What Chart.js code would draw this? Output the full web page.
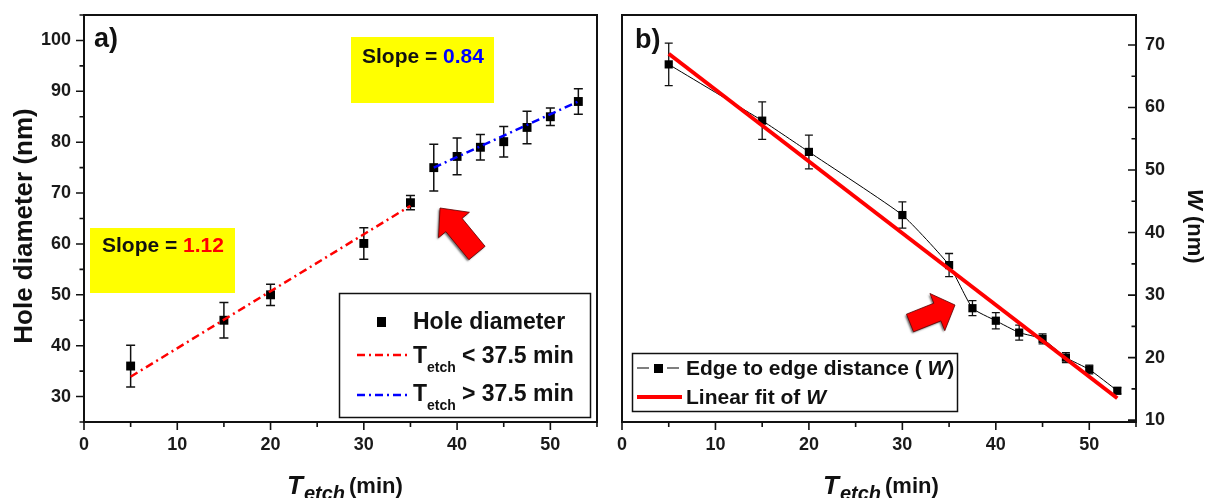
<!DOCTYPE html>
<html><head><meta charset="utf-8">
<script src="https://cdn.jsdelivr.net/npm/chart.js@4.4.1/dist/chart.umd.min.js"></script>
<style>
html,body{margin:0;padding:0;background:#fff;width:1207px;height:498px;overflow:hidden}
#ca{position:absolute;left:0;top:0}
#cb{position:absolute;left:605px;top:0}
</style></head><body>
<canvas id="ca" width="605" height="498"></canvas>
<canvas id="cb" width="602" height="498"></canvas>
<script>
// ---------- data ----------
const etchTimes = [5, 15, 20, 30, 35, 37.5, 40, 42.5, 45, 47.5, 50, 53];
const holeDiameter = [36, 45, 50, 60.1, 68.1, 75, 77.2, 79, 80.1, 82.9, 85, 88];
const holeErr = [4.1, 3.5, 2.1, 3.1, 1.4, 4.6, 3.6, 2.5, 3, 3.2, 1.7, 2.5];
const fitLowX = [5, 35];
const fitLowY = [33.9, 67.5];
const fitHighX = [37.5, 53];
const fitHighY = [75, 88];
const edgeDistance = [66.9, 57.9, 52.9, 42.8, 34.8, 27.9, 25.9, 24.0, 23.0, 20.0, 18.1, 14.7];
const edgeErr = [3.4, 3, 2.7, 2.1, 1.85, 1.2, 1.3, 1.2, 0.8, 0.8, 0.7, 0.5];
const fitWX = [5, 53];
const fitWY = [68.6, 13.5];
const xTickLabels = [0, 10, 20, 30, 40, 50];
const yTickLabelsA = [30, 40, 50, 60, 70, 80, 90, 100];
const yTickLabelsB = [10, 20, 30, 40, 50, 60, 70];
const slopeLow = '1.12';
const slopeHigh = '0.84';

const F = '"Liberation Sans", Arial, Helvetica, sans-serif';
const pts = (xs, ys) => xs.map((x, i) => ({x: x, y: ys[i]}));

function drawErrorBars(chart, dsIndex, errs, cap, lw) {
  const ctx = chart.ctx, meta = chart.getDatasetMeta(dsIndex), ys = chart.scales.y;
  const data = chart.data.datasets[dsIndex].data;
  ctx.save(); ctx.strokeStyle = '#111'; ctx.lineWidth = lw;
  data.forEach((p, i) => {
    const x = meta.data[i].x;
    const y1 = ys.getPixelForValue(p.y + errs[i]);
    const y2 = ys.getPixelForValue(p.y - errs[i]);
    ctx.beginPath();
    ctx.moveTo(x, y1); ctx.lineTo(x, y2);
    ctx.moveTo(x - cap, y1); ctx.lineTo(x + cap, y1);
    ctx.moveTo(x - cap, y2); ctx.lineTo(x + cap, y2);
    ctx.stroke();
  });
  ctx.restore();
}

function drawFrameAndTicks(chart, yLabels, side) {
  const ctx = chart.ctx, a = chart.chartArea, xs = chart.scales.x, ys = chart.scales.y;
  ctx.save();
  ctx.strokeStyle = '#111';
  ctx.lineWidth = 2;
  ctx.strokeRect(a.left, a.top, a.right - a.left, a.bottom - a.top);
  ctx.lineWidth = 1.6;
  ctx.beginPath();
  for (let v = 0; v <= xs.max + 1e-9; v += 5) {
    const px = xs.getPixelForValue(v);
    const len = (v % 10 === 0) ? 8 : 5;
    ctx.moveTo(px, a.bottom); ctx.lineTo(px, a.bottom + len);
  }
  const y0 = Math.ceil(ys.min / 5) * 5;
  for (let v = y0; v <= ys.max + 1e-9; v += 5) {
    const py = ys.getPixelForValue(v);
    const len = (v % 10 === 0) ? 8 : 4.5;
    if (side === 'left') { ctx.moveTo(a.left, py); ctx.lineTo(a.left - len, py); }
    else { ctx.moveTo(a.right, py); ctx.lineTo(a.right - len, py); }
  }
  ctx.stroke();
  ctx.fillStyle = '#1a1a1a';
  ctx.font = 'bold 18px ' + F;
  ctx.textAlign = 'center'; ctx.textBaseline = 'middle';
  xTickLabels.forEach(v => ctx.fillText(String(v), xs.getPixelForValue(v), a.bottom + 23));
  ctx.textBaseline = 'middle';
  if (side === 'left') {
    ctx.textAlign = 'right';
    yLabels.forEach(v => ctx.fillText(String(v), a.left - 13, ys.getPixelForValue(v)));
  } else {
    ctx.textAlign = 'left';
    yLabels.forEach(v => ctx.fillText(String(v), a.right + 9, ys.getPixelForValue(v)));
  }
  ctx.restore();
}

function drawXTitle(ctx, x0, base) {
  ctx.save();
  ctx.fillStyle = '#111'; ctx.textBaseline = 'alphabetic'; ctx.textAlign = 'left';
  ctx.font = 'italic bold 26px ' + F; ctx.fillText('T', x0, base);
  let x = x0 + ctx.measureText('T').width + 1;
  ctx.font = 'italic bold 20px ' + F; ctx.fillText('etch', x, base + 6);
  x += ctx.measureText('etch').width + 4;
  ctx.font = 'bold 22px ' + F; ctx.fillText('(min)', x, base - 1);
  ctx.restore();
}

function drawArrow(ctx, tx, ty, hx, hy, shaftW, headW, headL) {
  const dx = hx - tx, dy = hy - ty, L = Math.hypot(dx, dy);
  const ux = dx / L, uy = dy / L, nx = -uy, ny = ux;
  const bx = hx - ux * headL, by = hy - uy * headL;
  ctx.save();
  ctx.beginPath();
  ctx.moveTo(tx + nx * shaftW / 2, ty + ny * shaftW / 2);
  ctx.lineTo(bx + nx * shaftW / 2, by + ny * shaftW / 2);
  ctx.lineTo(bx + nx * headW / 2, by + ny * headW / 2);
  ctx.lineTo(hx, hy);
  ctx.lineTo(bx - nx * headW / 2, by - ny * headW / 2);
  ctx.lineTo(bx - nx * shaftW / 2, by - ny * shaftW / 2);
  ctx.lineTo(tx - nx * shaftW / 2, ty - ny * shaftW / 2);
  ctx.closePath();
  ctx.shadowColor = 'rgba(0,0,0,0.55)'; ctx.shadowBlur = 2; ctx.shadowOffsetX = -1.5; ctx.shadowOffsetY = 1.5;
  ctx.fillStyle = '#ff0000'; ctx.fill();
  ctx.shadowColor = 'transparent';
  ctx.strokeStyle = '#5a0000'; ctx.lineWidth = 0.8; ctx.stroke();
  ctx.restore();
}

// ---------- panel a ----------
const pluginA = {
  id: 'decoA',
  beforeDatasetsDraw(chart) { drawErrorBars(chart, 2, holeErr, 4.5, 1.5); },
  afterDraw(chart) {
    const ctx = chart.ctx;
    drawFrameAndTicks(chart, yTickLabelsA, 'left');
    ctx.save();
    ctx.fillStyle = '#111'; ctx.font = 'bold 26px ' + F;
    ctx.translate(32, 226); ctx.rotate(-Math.PI / 2);
    ctx.textAlign = 'center'; ctx.textBaseline = 'alphabetic';
    ctx.fillText('Hole diameter (nm)', 0, 0);
    ctx.restore();
    drawXTitle(ctx, 287, 494);
    ctx.save();
    ctx.fillStyle = '#111'; ctx.font = 'bold 27px ' + F; ctx.textAlign = 'left'; ctx.textBaseline = 'alphabetic';
    ctx.fillText('a)', 94, 47);
    ctx.fillStyle = '#ffff00';
    ctx.fillRect(90, 228, 145, 65);
    ctx.fillRect(351, 37, 143, 66);
    ctx.font = 'bold 21px ' + F;
    ctx.fillStyle = '#111'; ctx.fillText('Slope = ', 102, 252);
    let w = ctx.measureText('Slope = ').width;
    ctx.fillStyle = '#ff0000'; ctx.fillText(slopeLow, 102 + w, 252);
    ctx.fillStyle = '#111'; ctx.fillText('Slope = ', 362, 63);
    ctx.fillStyle = '#0000ff'; ctx.fillText(slopeHigh, 362 + w, 63);
    ctx.restore();
    drawArrow(ctx, 477, 253, 440, 208, 21, 40, 22);
    // legend
    ctx.save();
    ctx.fillStyle = '#fff'; ctx.fillRect(339, 293, 251, 124);
    ctx.strokeStyle = '#111'; ctx.lineWidth = 1.5; ctx.strokeRect(339.5, 293.5, 251, 124);
    ctx.fillStyle = '#000'; ctx.fillRect(377, 317, 9, 10);
    ctx.fillStyle = '#111'; ctx.font = 'bold 23px ' + F; ctx.textAlign = 'left'; ctx.textBaseline = 'alphabetic';
    ctx.fillText('Hole diameter', 413, 329);
    const rows = [{c: '#ff0000', ly: 355, base: 363, t: '< 37.5 min'}, {c: '#0000ff', ly: 395, base: 401, t: '> 37.5 min'}];
    rows.forEach(r => {
      ctx.strokeStyle = r.c; ctx.lineWidth = 2.5; ctx.setLineDash([8, 4, 2, 4]);
      ctx.beginPath(); ctx.moveTo(357, r.ly); ctx.lineTo(408, r.ly); ctx.stroke();
      ctx.setLineDash([]);
      ctx.fillStyle = '#111';
      ctx.font = 'bold 23px ' + F; ctx.fillText('T', 413, r.base);
      ctx.font = 'bold 14px ' + F; ctx.fillText('etch', 427, r.base + 9);
      ctx.font = 'bold 23px ' + F; ctx.fillText(r.t, 462, r.base);
    });
    ctx.restore();
  }
};

new Chart(document.getElementById('ca'), {
  type: 'scatter',
  data: {
    datasets: [
      {label: 'T_etch < 37.5 min', type: 'line', data: pts(fitLowX, fitLowY), borderColor: '#ff0000', borderWidth: 2.5, borderDash: [8, 4, 2, 4], pointRadius: 0, fill: false},
      {label: 'T_etch > 37.5 min', type: 'line', data: pts(fitHighX, fitHighY), borderColor: '#0000ff', borderWidth: 2.5, borderDash: [8, 4, 2, 4], pointRadius: 0, fill: false},
      {label: 'Hole diameter', data: pts(etchTimes, holeDiameter), pointStyle: 'rect', pointRadius: 6.3, backgroundColor: '#000', borderWidth: 0}
    ]
  },
  options: {
    responsive: false, animation: false, devicePixelRatio: 1,
    layout: {padding: {top: 15, right: 8, left: 0, bottom: 0}},
    plugins: {legend: {display: false}, tooltip: {enabled: false}},
    scales: {
      x: {type: 'linear', min: 0, max: 55, ticks: {display: false}, grid: {display: false}, border: {display: false}, afterFit(s) { s.height = 76; }},
      y: {type: 'linear', min: 25, max: 105, ticks: {display: false}, grid: {display: false}, border: {display: false}, afterFit(s) { s.width = 84; }}
    }
  },
  plugins: [pluginA]
});

// ---------- panel b ----------
const pluginB = {
  id: 'decoB',
  beforeDatasetsDraw(chart) { drawErrorBars(chart, 1, edgeErr, 4, 1.3); },
  afterDraw(chart) {
    const ctx = chart.ctx;
    drawFrameAndTicks(chart, yTickLabelsB, 'right');
    ctx.save();
    ctx.fillStyle = '#111';
    ctx.translate(1188 - 605, 189); ctx.rotate(Math.PI / 2);
    ctx.textAlign = 'left'; ctx.textBaseline = 'alphabetic';
    ctx.font = 'italic bold 22px ' + F; ctx.fillText('W', 0, 0);
    let w = ctx.measureText('W').width;
    ctx.font = 'bold 22px ' + F; ctx.fillText(' (nm)', w, 0);
    ctx.restore();
    drawXTitle(ctx, 823 - 605, 494);
    ctx.save();
    ctx.fillStyle = '#111'; ctx.font = 'bold 27px ' + F; ctx.textAlign = 'left'; ctx.textBaseline = 'alphabetic';
    ctx.fillText('b)', 635 - 605, 48);
    ctx.restore();
    drawArrow(ctx, 910 - 605, 323, 955 - 605, 305, 19, 40, 19);
    // legend
    ctx.save();
    const ox = -605;
    ctx.fillStyle = '#fff'; ctx.fillRect(632 + ox, 353, 325, 58);
    ctx.strokeStyle = '#111'; ctx.lineWidth = 1.5; ctx.strokeRect(632.5 + ox, 353.5, 325, 58);
    ctx.strokeStyle = '#000'; ctx.lineWidth = 1.2;
    ctx.beginPath(); ctx.moveTo(637 + ox, 368); ctx.lineTo(649 + ox, 368); ctx.moveTo(667 + ox, 368); ctx.lineTo(679 + ox, 368); ctx.stroke();
    ctx.fillStyle = '#000'; ctx.fillRect(654 + ox, 364, 9, 9);
    ctx.strokeStyle = '#ff0000'; ctx.lineWidth = 4;
    ctx.beginPath(); ctx.moveTo(637 + ox, 397); ctx.lineTo(682 + ox, 397); ctx.stroke();
    ctx.fillStyle = '#111'; ctx.textAlign = 'left'; ctx.textBaseline = 'alphabetic';
    ctx.font = 'bold 21px ' + F;
    let x = 686 + ox;
    ctx.fillText('Edge to edge distance ( ', x, 375);
    x += ctx.measureText('Edge to edge distance ( ').width;
    ctx.font = 'italic bold 21px ' + F; ctx.fillText('W', x, 375);
    x += ctx.measureText('W').width;
    ctx.font = 'bold 21px ' + F; ctx.fillText(')', x, 375);
    x = 686 + ox;
    ctx.fillText('Linear fit of ', x, 404);
    x += ctx.measureText('Linear fit of ').width;
    ctx.font = 'italic bold 21px ' + F; ctx.fillText('W', x, 404);
    ctx.restore();
  }
};

new Chart(document.getElementById('cb'), {
  type: 'scatter',
  data: {
    datasets: [
      {label: 'Linear fit of W', type: 'line', data: pts(fitWX, fitWY), borderColor: '#ff0000', borderWidth: 4, pointRadius: 0, fill: false},
      {label: 'Edge to edge distance (W)', data: pts(etchTimes, edgeDistance), showLine: true, tension: 0.15, borderColor: '#000', borderWidth: 1, pointStyle: 'rect', pointRadius: 5.8, pointBackgroundColor: '#000', pointBorderWidth: 0, backgroundColor: '#000'}
    ]
  },
  options: {
    responsive: false, animation: false, devicePixelRatio: 1,
    layout: {padding: {top: 15, right: 0, left: 17, bottom: 0}},
    plugins: {legend: {display: false}, tooltip: {enabled: false}},
    scales: {
      x: {type: 'linear', min: 0, max: 55, ticks: {display: false}, grid: {display: false}, border: {display: false}, afterFit(s) { s.height = 76; }},
      y: {type: 'linear', position: 'right', min: 9.7, max: 74.8, ticks: {display: false}, grid: {display: false}, border: {display: false}, afterFit(s) { s.width = 71; }}
    }
  },
  plugins: [pluginB]
});
</script>
</body></html>
